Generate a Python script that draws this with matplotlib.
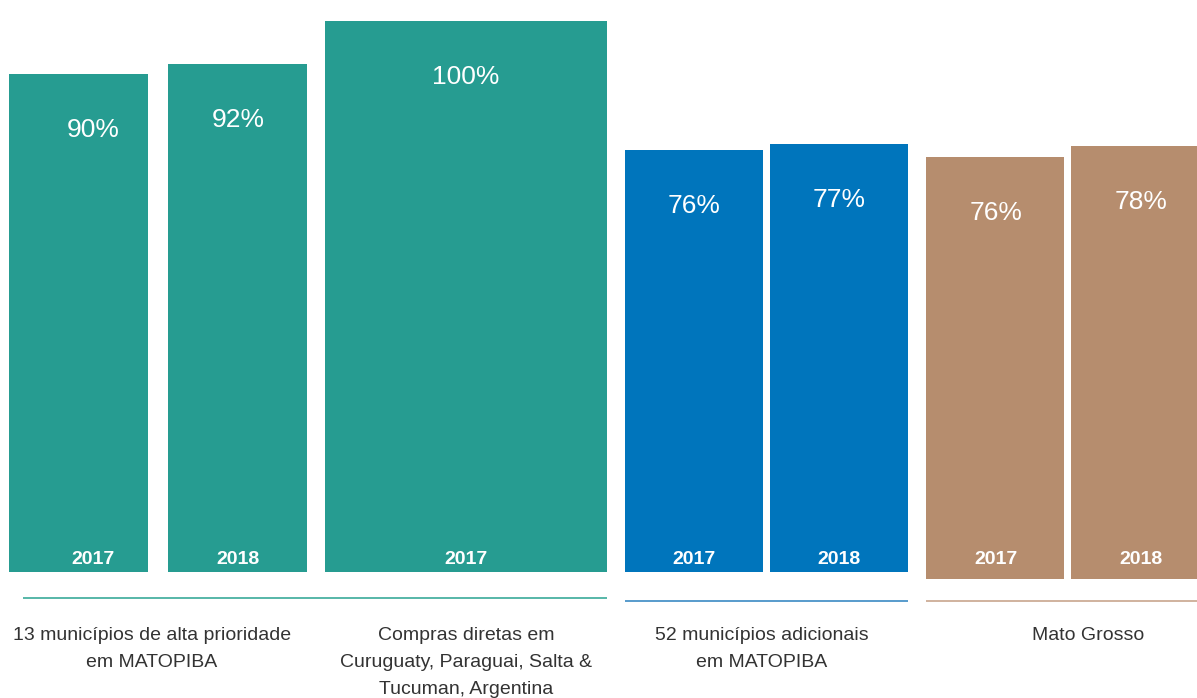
import matplotlib.pyplot as plt

plt.rcParams['font.family'] = ['Liberation Sans', 'DejaVu Sans']

# data
years = ['2017', '2018', '2017', '2017', '2018', '2017', '2018']
values = [90, 92, 100, 76, 77, 76, 78]
group_labels = ['13 municípios de alta prioridade\nem MATOPIBA',
                'Compras diretas em\nCuruguaty, Paraguai, Salta &\nTucuman, Argentina',
                '52 municípios adicionais\nem MATOPIBA',
                'Mato Grosso']

# layout (pixel units on x)
bar_left = [9, 168, 325, 625, 770, 926, 1071]
bar_width = [139, 139, 282, 138, 138, 138, 140]
label_x = [93, 238, 466, 694, 839, 996, 1141]
shift_px = [0, 0, 0, 0, 0, 7, 7]   # brown bars sit a bit lower
colors = ['#269C91', '#269C91', '#269C91', '#0075BC', '#0075BC', '#B68D6E', '#B68D6E']
line_spans = [(23, 607, 598, '#3AAA9A'), (625, 908, 601, '#3B8AC4'), (926, 1197, 601, '#C8A68E')]
glabel_pos = [(152, 627), (466, 627), (762, 627), (1088, 627)]

W, H = 1197, 698
scale = 5.37      # px per percent
floor = -2.66     # bars start a bit below zero
base_px = 572     # pixel row of bar floor
zero_px = base_px + floor * scale

fig = plt.figure(figsize=(W / 100, H / 100), dpi=100)
ax = fig.add_axes([0, 0, 1, 1])
ax.set_xlim(0, W)
ax.set_ylim(-(H - zero_px) / scale, zero_px / scale)
ax.axis('off')


def py(p):
    # pixel row -> data y
    return (zero_px - p) / scale


bottoms = [floor - s / scale for s in shift_px]
heights = [v - floor for v in values]
ax.bar(bar_left, heights, width=bar_width, bottom=bottoms, align='edge',
       color=colors, edgecolor='none')

for i, v in enumerate(values):
    top = v - shift_px[i] / scale
    ax.text(label_x[i], top - 56 / scale, f'{v}%', color='white', fontsize=19,
            ha='center', va='center')
    ax.text(label_x[i], py(559), years[i], color='white', fontsize=14,
            fontweight='bold', ha='center', va='center')

for x0, x1, yp, c in line_spans:
    ax.plot([x0, x1], [py(yp), py(yp)], color=c, lw=1.2, solid_capstyle='butt')

for (x, yp), txt in zip(glabel_pos, group_labels):
    ax.text(x, py(yp), txt, color='#333333', fontsize=14, ha='center',
            va='top', linespacing=1.75)

fig.savefig('out.png', dpi=100)
